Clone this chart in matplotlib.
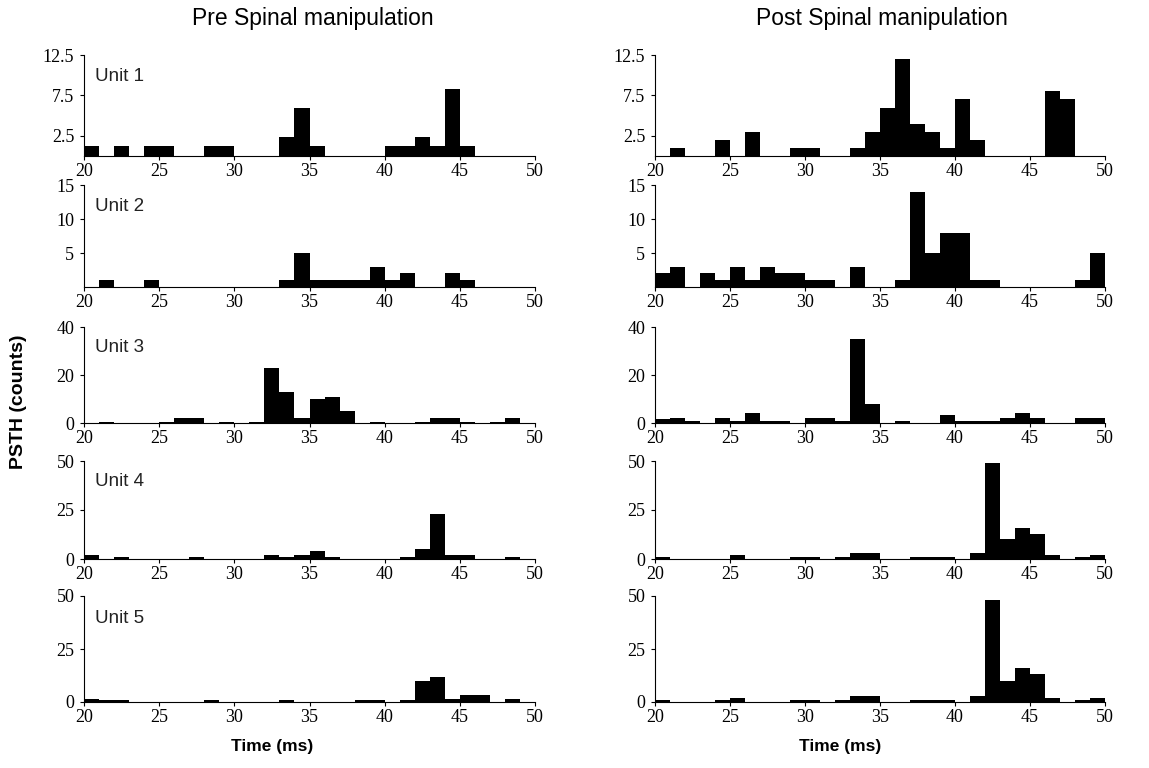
import matplotlib
matplotlib.use("Agg")
import matplotlib.pyplot as plt

# left edges of the 1 ms bins, 20..49 ms
bins = list(range(20, 50))

def counts(d):
    return [d.get(b, 0) for b in bins]

pre_unit1 = counts({20: 1.2, 22: 1.2, 24: 1.2, 25: 1.2, 28: 1.2, 29: 1.2, 33: 2.4, 34: 5.9, 35: 1.2,
                    40: 1.2, 41: 1.2, 42: 2.4, 43: 1.2, 44: 8.3, 45: 1.2})
post_unit1 = counts({21: 1, 24: 2, 26: 3, 29: 1, 30: 1, 33: 1, 34: 3, 35: 6, 36: 12, 37: 4, 38: 3,
                     39: 1, 40: 7, 41: 2, 46: 8, 47: 7})
pre_unit2 = counts({21: 1, 24: 1, 33: 1, 34: 5, 35: 1, 36: 1, 37: 1, 38: 1, 39: 3, 40: 1, 41: 2,
                    44: 2, 45: 1})
post_unit2 = counts({20: 2, 21: 3, 23: 2, 24: 1, 25: 3, 26: 1, 27: 3, 28: 2, 29: 2, 30: 1, 31: 1,
                     33: 3, 36: 1, 37: 14, 38: 5, 39: 8, 40: 8, 41: 1, 42: 1, 48: 1, 49: 5})
pre_unit3 = counts({21: 0.5, 25: 0.5, 26: 2, 27: 2, 29: 0.5, 31: 0.5, 32: 23, 33: 13, 34: 2, 35: 10,
                    36: 11, 37: 5, 39: 0.5, 42: 0.5, 43: 2, 44: 2, 45: 0.5, 47: 0.5, 48: 2})
post_unit3 = counts({20: 1.6, 21: 2.2, 22: 1, 24: 2, 25: 1, 26: 4.2, 27: 1, 28: 1, 30: 2, 31: 2, 32: 1,
                     33: 35, 34: 8, 36: 1, 39: 3.4, 40: 1, 41: 1, 42: 1, 43: 2, 44: 4.2, 45: 2,
                     48: 2, 49: 2})
pre_unit4 = counts({20: 2, 22: 1, 27: 1, 32: 2, 33: 1, 34: 2, 35: 4, 36: 1, 41: 1, 42: 5, 43: 23,
                    44: 2, 45: 2, 48: 1})
post_unit4 = counts({20: 1, 25: 2, 29: 1, 30: 1, 32: 1, 33: 3, 34: 3, 37: 1, 38: 1, 39: 1, 41: 3,
                     42: 49, 43: 10, 44: 16, 45: 13, 46: 2, 48: 1, 49: 2})
pre_unit5 = counts({20: 1.4, 21: 1, 22: 1, 28: 1, 33: 1, 38: 1, 39: 1, 41: 1, 42: 10, 43: 12,
                    44: 1.5, 45: 3.5, 46: 3.5, 48: 1.5})
post_unit5 = counts({20: 1, 24: 1, 25: 2, 29: 1, 30: 1, 32: 1, 33: 3, 34: 3, 37: 1, 38: 1, 39: 1,
                     41: 3, 42: 48, 43: 10, 44: 16, 45: 13, 46: 2, 48: 1, 49: 2})

pre = [pre_unit1, pre_unit2, pre_unit3, pre_unit4, pre_unit5]
post = [post_unit1, post_unit2, post_unit3, post_unit4, post_unit5]
unit_names = ["Unit 1", "Unit 2", "Unit 3", "Unit 4", "Unit 5"]
ylims = [12.5, 15, 40, 50, 50]
yticks = [[2.5, 7.5, 12.5], [5, 10, 15], [0, 20, 40], [0, 25, 50], [0, 25, 50]]
ytick_labels = [["2.5", "7.5", "12.5"], ["5", "10", "15"], ["0", "20", "40"],
                ["0", "25", "50"], ["0", "25", "50"]]
xticks = [20, 25, 30, 35, 40, 45, 50]

W, H = 1149, 768
# pixel rows (top, bottom) of each axes
rows = [(55, 156), (185, 287), (327, 423), (461, 559), (596, 702)]
cols = [(84, 535), (655, 1105)]

serif = "Liberation Serif"
sans = "Liberation Sans"

fig = plt.figure(figsize=(W / 100, H / 100), dpi=100)

for c, data in enumerate([pre, post]):
    x0, x1 = cols[c]
    for r in range(5):
        top, bot = rows[r]
        ax = fig.add_axes([x0 / W, 1 - bot / H, (x1 - x0) / W, (bot - top) / H])
        ax.bar(bins, data[r], width=1.0, align="edge", color="black", linewidth=0)
        ax.set_xlim(20, 50)
        ax.set_ylim(0, ylims[r])
        ax.set_xticks(xticks)
        ax.set_xticklabels([str(t) for t in xticks], fontfamily=serif, fontsize=13)
        ax.set_yticks(yticks[r])
        ax.set_yticklabels(ytick_labels[r], fontfamily=serif, fontsize=13)
        ax.tick_params(direction="out", length=3, width=0.8, colors="black")
        ax.tick_params(axis="x", pad=2)
        ax.tick_params(axis="y", pad=4)
        for s in ["top", "right"]:
            ax.spines[s].set_visible(False)
        for s in ["left", "bottom"]:
            ax.spines[s].set_linewidth(0.8)
        if c == 0:
            ax.text(0.024, 0.79, unit_names[r], transform=ax.transAxes, fontfamily=sans,
                    fontsize=13.5, ha="left", va="center", color="#222222")

fig.text(313 / W, 1 - 18 / H, "Pre Spinal manipulation", fontfamily=sans, fontsize=16.5,
         ha="center", va="center")
fig.text(882 / W, 1 - 18 / H, "Post Spinal manipulation", fontfamily=sans, fontsize=16.5,
         ha="center", va="center")
fig.text(19 / W, 1 - 402 / H, "PSTH (counts)", fontfamily=sans, fontweight="bold", fontsize=14,
         rotation=90, ha="center", va="center")
fig.text(272 / W, 1 - 747 / H, "Time (ms)", fontfamily=sans, fontweight="bold", fontsize=12.5,
         ha="center", va="center")
fig.text(840 / W, 1 - 747 / H, "Time (ms)", fontfamily=sans, fontweight="bold", fontsize=12.5,
         ha="center", va="center")

fig.savefig("out.png", dpi=100)
